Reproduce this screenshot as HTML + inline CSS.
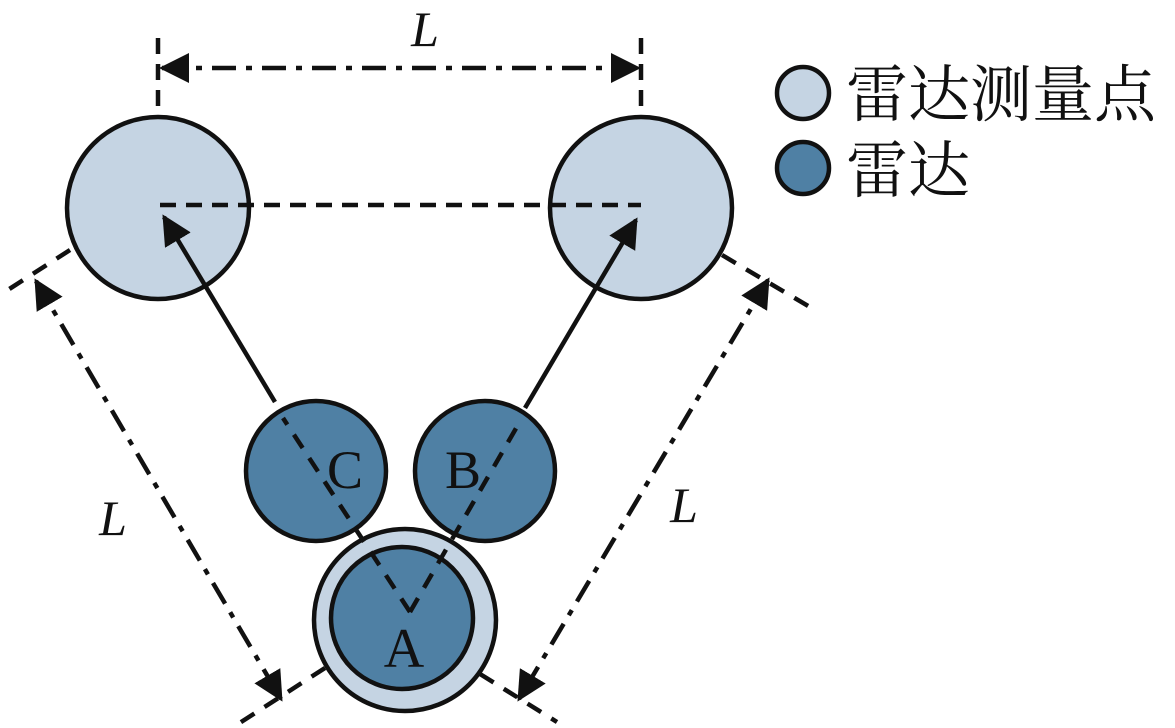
<!DOCTYPE html>
<html><head><meta charset="utf-8">
<style>html,body{margin:0;padding:0;background:#fff;}svg{display:block}</style>
</head><body>
<svg width="1175" height="728" viewBox="0 0 1175 728" xmlns="http://www.w3.org/2000/svg">
<defs>
<marker id="ah" viewBox="0 0 10 10" refX="9" refY="5" markerWidth="30" markerHeight="30" markerUnits="userSpaceOnUse" orient="auto-start-reverse">
<path d="M0,0 L10,5 L0,10 z" fill="#111"/>
</marker>
</defs>
<g stroke="#111" stroke-width="4.5" fill="none">
<line x1="158" y1="38" x2="158" y2="115" stroke-dasharray="16,10"/>
<line x1="641" y1="38" x2="641" y2="115" stroke-dasharray="16,10"/>
<line x1="162" y1="68" x2="638" y2="68" stroke-dasharray="24,10,6,10" marker-start="url(#ah)" marker-end="url(#ah)"/>
<line x1="70" y1="250" x2="0" y2="295" stroke-dasharray="16,12"/>
<line x1="325" y1="668" x2="235" y2="726" stroke-dasharray="16,12"/>
<line x1="36" y1="281" x2="281" y2="699" stroke-dasharray="24,10,6,10" marker-start="url(#ah)" marker-end="url(#ah)"/>
<line x1="722" y1="255" x2="815" y2="310" stroke-dasharray="16,12"/>
<line x1="480" y1="674" x2="557" y2="722" stroke-dasharray="16,12"/>
<line x1="768" y1="280" x2="519" y2="699" stroke-dasharray="24,10,6,10" marker-start="url(#ah)" marker-end="url(#ah)"/>
</g>
<g stroke="#111" stroke-width="4.5">
<circle cx="158" cy="208" r="91" fill="#c5d4e3"/>
<circle cx="641" cy="208" r="91" fill="#c5d4e3"/>
<circle cx="316" cy="471" r="70" fill="#4f80a4"/>
<circle cx="485" cy="471" r="70" fill="#4f80a4"/>
<circle cx="405" cy="620" r="91" fill="#c5d4e3"/>
<circle cx="402" cy="618" r="71" fill="#4f80a4"/>
<circle cx="803" cy="93" r="26" fill="#c5d4e3"/>
<circle cx="803" cy="168" r="26" fill="#4f80a4"/>
</g>
<g stroke="#111" stroke-width="4.5" fill="none">
<line x1="160" y1="205" x2="641" y2="205" stroke-dasharray="16,10"/>
<line x1="275" y1="402" x2="164" y2="217" marker-end="url(#ah)"/>
<line x1="525" y1="408" x2="636" y2="220" marker-end="url(#ah)"/>
<line x1="410" y1="612" x2="283" y2="418" stroke-dasharray="16,12"/>
<line x1="410" y1="612" x2="522" y2="418" stroke-dasharray="16,12"/>
</g>
<g font-family="Liberation Serif, serif" fill="#111">
<text x="425" y="46" font-size="50" font-style="italic" text-anchor="middle">L</text>
<text x="113" y="535" font-size="50" font-style="italic" text-anchor="middle">L</text>
<text x="684" y="522" font-size="50" font-style="italic" text-anchor="middle">L</text>
<text x="345" y="488" font-size="54" text-anchor="middle">C</text>
<text x="463" y="488" font-size="54" text-anchor="middle">B</text>
<text x="404" y="667" font-size="56" text-anchor="middle">A</text>
</g>
<g font-family="Liberation Serif, 'Noto Serif CJK SC', serif" fill="#111" font-size="62">
<text x="846" y="116">雷达测量点</text>
<text x="846" y="192">雷达</text>
</g>
</svg>
</body></html>
